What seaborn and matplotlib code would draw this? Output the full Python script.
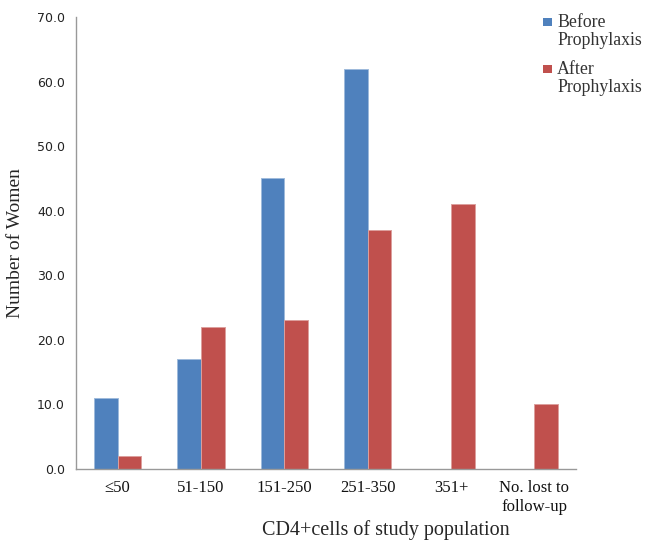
import matplotlib
matplotlib.use("Agg")
import matplotlib.pyplot as plt
import matplotlib.colors as mcolors
import seaborn as sns
import pandas as pd
from matplotlib.patches import Rectangle

categories = ["\u226450", "51-150", "151-250", "251-350", "351+", "No. lost to\nfollow-up"]
before_prophylaxis = [11, 17, 45, 62, 0, 0]
after_prophylaxis = [2, 22, 23, 37, 41, 10]
series_names = ["Before Prophylaxis", "After Prophylaxis"]
y_ticks = [0, 10, 20, 30, 40, 50, 60, 70]

colors = ["#4F81BD", "#C0504D"]

df = pd.DataFrame({
    "cat": categories * 2,
    "value": before_prophylaxis + after_prophylaxis,
    "series": [series_names[0]] * len(categories) + [series_names[1]] * len(categories),
})

sns.set_style("white")
serif = ["Liberation Serif", "DejaVu Serif"]

W, H = 646, 540
fig = plt.figure(figsize=(W / 100, H / 100), dpi=100)
ax = fig.add_axes([76 / W, 1 - 469 / H, 500 / W, 452 / H])

sns.barplot(data=df, x="cat", y="value", hue="series", order=categories,
            hue_order=series_names, palette=colors, width=0.57, gap=0,
            saturation=1, ax=ax, legend=False)

# thin, lighter outline around each bar
for patch in ax.patches:
    fc = mcolors.to_rgb(patch.get_facecolor())
    light = tuple(c + (1 - c) * 0.45 for c in fc)
    patch.set_edgecolor(light)
    patch.set_linewidth(0.7)
    if patch.get_height() == 0:
        patch.set_visible(False)

ax.set_ylim(0, 70)
ax.set_xlim(-0.5, len(categories) - 0.5)
ax.set_yticks(y_ticks)
ax.set_yticklabels([f"{v:.1f}" for v in y_ticks], fontsize=9, color="#222222",
                   family="DejaVu Sans")
ax.set_xticks(range(len(categories)))
ax.set_xticklabels(categories, fontsize=12, family=serif, color="#111111")

for side in ["top", "right"]:
    ax.spines[side].set_visible(False)
for side in ["left", "bottom"]:
    ax.spines[side].set_color("#999999")
    ax.spines[side].set_linewidth(1.0)

ax.tick_params(axis="y", direction="out", length=4, width=1, color="#999999", pad=4)
ax.tick_params(axis="x", length=0, pad=8)

ax.set_xlabel("CD4+cells of study population", fontsize=14.5, family=serif)
ax.xaxis.set_label_coords(0.62, -0.112)
ax.set_ylabel("Number of Women", fontsize=14, family=serif)
ax.yaxis.set_label_coords(-0.104, 0.5)

# Legend: colour swatch beside a two-line label
legend_rows = [(colors[0], series_names[0], 18), (colors[1], series_names[1], 65)]
for color, name, top in legend_rows:
    fig.add_artist(Rectangle((543 / W, 1 - (top + 8) / H), 9 / W, 8 / H,
                             transform=fig.transFigure, facecolor=color,
                             edgecolor="none"))
    first, second = name.split(" ")
    fig.text(557 / W, 1 - (top + 9) / H, first, family=serif, fontsize=12.8,
             color="#333333", va="baseline", ha="left")
    fig.text(557 / W, 1 - (top + 27) / H, second, family=serif, fontsize=12.8,
             color="#333333", va="baseline", ha="left")

fig.savefig("out.png", dpi=100)
